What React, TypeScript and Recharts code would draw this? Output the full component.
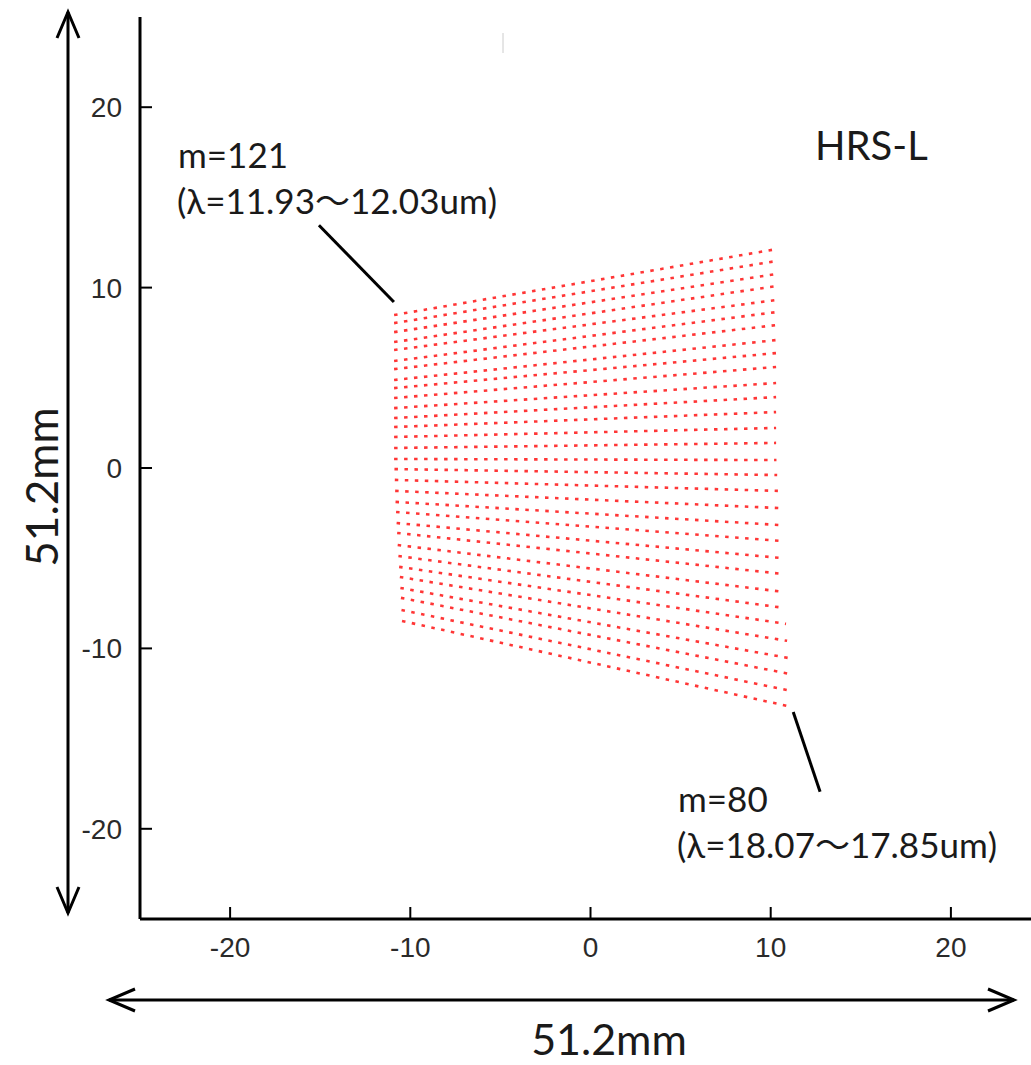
import React from 'react';
import { LineChart, Line, XAxis, YAxis, ReferenceLine } from 'recharts';

const ticks = [-20, -10, 0, 10, 20];

// ends of each order trace (mm), top trace (m=121) first, bottom (m=80) last
const leftX = [
  -10.9, -10.9, -10.9, -10.9, -10.9, -10.9, -10.9, -10.9, -10.9, -10.9, -10.9,
  -10.9, -10.9, -10.9, -10.9, -10.9, -10.88, -10.86, -10.84, -10.82, -10.79,
  -10.76, -10.73, -10.7, -10.66, -10.62, -10.58, -10.55, -10.52, -10.49, -10.46,
];
const leftY = [
  8.48, 8.03, 7.53, 6.98, 6.54, 5.93, 5.48, 4.88, 4.43, 3.88, 3.32, 2.77, 2.27,
  1.72, 1.11, 0.5, -0.06, -0.66, -1.27, -1.88, -2.44, -3.05, -3.6, -4.27, -4.88,
  -5.48, -6.04, -6.65, -7.2, -7.87, -8.48,
];
const rightX = [
  10.3, 10.3, 10.3, 10.3, 10.3, 10.3, 10.3, 10.3, 10.3, 10.3, 10.3, 10.3, 10.3,
  10.3, 10.3, 10.32, 10.36, 10.4, 10.45, 10.49, 10.54, 10.6, 10.66, 10.72, 10.78,
  10.85, 10.91, 10.97, 11.03, 11.09, 11.14,
];
const rightY = [
  12.13, 11.47, 10.75, 10.08, 9.31, 8.64, 7.92, 7.09, 6.37, 5.6, 4.71, 3.93, 3.1,
  2.22, 1.39, 0.44, -0.39, -1.27, -2.22, -3.16, -4.04, -4.99, -5.87, -6.87, -7.76,
  -8.64, -9.58, -10.53, -11.41, -12.35, -13.24,
];

// leader lines from the labels to the first / last trace
const leaderTop = [{ x: -15.07, y: 13.46 }, { x: -10.91, y: 9.2 }];
const leaderBottom = [{ x: 11.25, y: -13.52 }, { x: 12.74, y: -17.95 }];

const traces = leftX.map((lx, i) => [
  { x: lx, y: leftY[i] },
  { x: rightX[i], y: rightY[i] },
]);

const tickStyle = { fill: '#2a2a2a', fontSize: 28, fontFamily: 'Liberation Sans' };
const axisLine = { stroke: '#000', strokeWidth: 3 };
const tickLine = { stroke: '#000', strokeWidth: 2 };
const noLabel = () => '';
const textFont = 'Lato, "Noto Sans CJK JP", sans-serif';

export default function App() {
  return (
    <div
      style={{
        position: 'fixed',
        left: 0,
        top: 0,
        width: 1031,
        height: 1065,
        overflow: 'hidden',
        background: '#fff',
      }}
    >
      <LineChart width={1100} height={1065} margin={{ top: 17, right: 59, bottom: 106, left: 80 }}>
        <XAxis
          type="number"
          dataKey="x"
          domain={[-25, 25]}
          ticks={ticks}
          allowDataOverflow
          height={40}
          axisLine={axisLine}
          tickLine={tickLine}
          tickSize={-12}
          tickMargin={30}
          tick={tickStyle}
        />
        <XAxis
          xAxisId="top"
          orientation="top"
          type="number"
          domain={[-25, 25]}
          ticks={ticks}
          allowDataOverflow
          height={0}
          axisLine={axisLine}
          tickLine={tickLine}
          tickSize={-12}
          tickFormatter={noLabel}
        />
        <YAxis
          type="number"
          domain={[-25, 25]}
          ticks={ticks}
          allowDataOverflow
          width={60}
          axisLine={axisLine}
          tickLine={tickLine}
          tickSize={-12}
          tickMargin={30}
          tick={tickStyle}
        />
        <YAxis
          yAxisId="right"
          orientation="right"
          type="number"
          domain={[-25, 25]}
          ticks={ticks}
          allowDataOverflow
          width={0}
          axisLine={axisLine}
          tickLine={tickLine}
          tickSize={-12}
          tickFormatter={noLabel}
        />
        {traces.map((d, i) => (
          <Line
            key={i}
            data={d}
            dataKey="y"
            type="linear"
            stroke="#ff2020"
            strokeWidth={2.6}
            strokeOpacity={0.9}
            strokeDasharray="3.5 6.5"
            dot={false}
            activeDot={false}
            isAnimationActive={false}
          />
        ))}
        <ReferenceLine segment={leaderTop} stroke="#000" strokeWidth={3} ifOverflow="visible" />
        <ReferenceLine segment={leaderBottom} stroke="#000" strokeWidth={3} ifOverflow="visible" />
      </LineChart>
      <svg
        width={1031}
        height={1065}
        style={{ position: 'absolute', left: 0, top: 0, pointerEvents: 'none' }}
      >
        <g fill="#1a1a1a" fontFamily={textFont}>
          <text x={815} y={160} fontSize={40}>HRS-L</text>
          <text x={178} y={168} fontSize={35}>m=121</text>
          <text x={177} y={214} fontSize={35}>(λ=11.93～12.03um)</text>
          <text x={678} y={812} fontSize={35}>m=80</text>
          <text x={677} y={858} fontSize={35}>(λ=18.07～17.85um)</text>
          <text x={609} y={1055} fontSize={43} textAnchor="middle">51.2mm</text>
          <text
            x={0}
            y={0}
            fontSize={44}
            textAnchor="middle"
            dominantBaseline="central"
            transform="translate(41 487) rotate(-90)"
          >
            51.2mm
          </text>
        </g>
        <g stroke="#000" strokeWidth={3} fill="none">
          <line x1={68} y1={12} x2={68} y2={913} />
          <polyline points="57,38 68,12 79,38" />
          <polyline points="57,887 68,913 79,887" />
          <line x1={109} y1={1000} x2={1014} y2={1000} />
          <polyline points="135,989 109,1000 135,1011" />
          <polyline points="988,989 1014,1000 988,1011" />
        </g>
        <line x1={503} y1={33} x2={503} y2={53} stroke="#ccc" strokeWidth={1} />
      </svg>
    </div>
  );
}
